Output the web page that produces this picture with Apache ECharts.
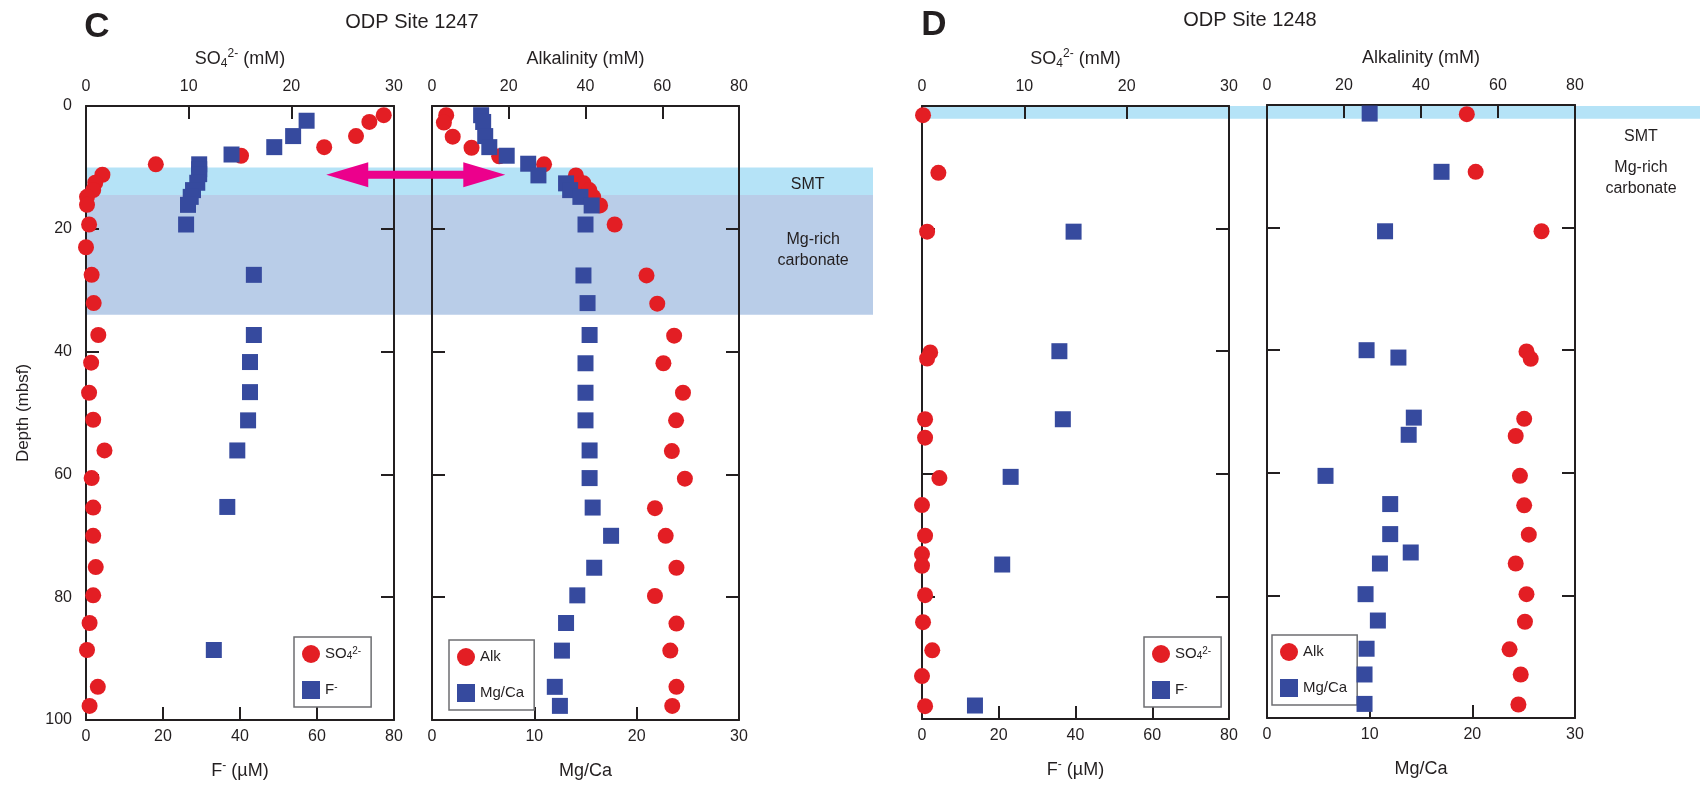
<!DOCTYPE html>
<html>
<head>
<meta charset="utf-8">
<script src="https://cdn.jsdelivr.net/npm/echarts@6/dist/echarts.min.js"></script>
<style>
  html, body { margin: 0; padding: 0; background: #fff; }
  #main { width: 1700px; height: 788px; }
</style>
</head>
<body>
<div id="main"></div>
<script>
// ---- data: [value, depth (mbsf)] ----
// ODP Site 1247
var so4_1247 = [[29.0,1.5],[27.6,2.6],[26.3,4.9],[23.2,6.7],[15.1,8.1],[6.8,9.5],[1.6,11.2],[0.9,12.5],[0.7,13.7],[0.1,14.8],[0.1,16.1],[0.3,19.3],[0.0,23.0],[0.55,27.5],[0.75,32.1],[1.2,37.3],[0.5,41.8],[0.3,46.7],[0.7,51.1],[1.8,56.1],[0.55,60.6],[0.7,65.4],[0.7,70.0],[0.95,75.1],[0.7,79.7],[0.35,84.2],[0.1,88.6],[1.15,94.6],[0.35,97.7]];
var f_1247 = [[57.3,2.4],[53.8,4.9],[48.9,6.7],[37.8,7.9],[29.4,9.5],[29.4,10.3],[29.4,11.1],[28.9,12.5],[27.8,13.7],[27.2,14.8],[26.5,16.1],[26.0,19.3],[43.6,27.5],[43.6,37.3],[42.6,41.7],[42.6,46.6],[42.1,51.2],[39.3,56.1],[36.7,65.3],[33.2,88.6]];
var alk_1247 = [[3.7,1.5],[3.1,2.7],[5.4,5.0],[10.3,6.8],[17.5,8.2],[29.2,9.5],[37.5,11.3],[39.5,12.6],[41.0,13.7],[42.0,14.8],[43.8,16.2],[47.6,19.3],[55.9,27.6],[58.7,32.2],[63.1,37.4],[60.3,41.9],[65.4,46.7],[63.6,51.2],[62.5,56.2],[65.9,60.7],[58.1,65.5],[60.9,70.0],[63.7,75.2],[58.1,79.8],[63.7,84.3],[62.1,88.7],[63.7,94.6],[62.6,97.7]];
var mgca_1247 = [[4.8,1.5],[5.0,2.6],[5.2,4.9],[5.6,6.7],[7.3,8.1],[9.4,9.4],[10.4,11.3],[13.1,12.6],[13.5,13.7],[14.5,14.8],[15.6,16.2],[15.0,19.3],[14.8,27.6],[15.2,32.1],[15.4,37.3],[15.0,41.9],[15.0,46.7],[15.0,51.2],[15.4,56.1],[15.4,60.6],[15.7,65.4],[17.5,70.0],[15.85,75.2],[14.2,79.7],[13.1,84.2],[12.7,88.7],[12.0,94.6],[12.5,97.7]];
// ODP Site 1248
var so4_1248 = [[0.1,1.5],[1.6,10.9],[0.5,20.5],[0.8,40.2],[0.5,41.2],[0.3,51.1],[0.3,54.1],[1.7,60.7],[0.0,65.1],[0.3,70.1],[0.0,73.1],[0.0,75.0],[0.3,79.8],[0.1,84.2],[1.0,88.8],[0.0,93.0],[0.3,97.9]];
var f_1248 = [[39.5,20.5],[35.8,40.0],[36.7,51.1],[23.1,60.5],[20.9,74.8],[13.8,97.8]];
var alk_1248 = [[51.9,1.5],[54.2,10.9],[71.3,20.6],[67.4,40.2],[68.5,41.4],[66.8,51.2],[64.6,54.0],[65.7,60.5],[66.8,65.3],[68.0,70.1],[64.6,74.8],[67.4,79.8],[67.0,84.3],[63.0,88.8],[65.9,92.9],[65.3,97.8]];
var mgca_1248 = [[10.0,1.4],[17.0,10.9],[11.5,20.6],[9.7,40.0],[12.8,41.2],[14.3,51.0],[13.8,53.8],[5.7,60.5],[12.0,65.1],[12.0,70.0],[14.0,73.0],[11.0,74.8],[9.6,79.8],[10.8,84.1],[9.7,88.7],[9.5,92.9],[9.5,97.7]];
// depth bands [from, to]
var smtBand_1247 = [10, 14.5];
var mgBand_1247 = [14.5, 34];
var smtBand_1248 = [0, 2.1];
// arrow ends: SO4 value / Alk value at depth
var arrowDepth = 11.2, arrowSo4 = 23.4, arrowAlk = 19.1;

var FONT = "'Liberation Sans', Arial, Helvetica, sans-serif";
var INK = '#231f20';
var RED = '#e31e24';
var BLUE = '#364a9e';

var RICH = {
	sub: {fontSize: 12, lineHeight: 12, verticalAlign: 'bottom', fontFamily: FONT, color: INK},
	sup: {fontSize: 12, lineHeight: 12, verticalAlign: 'top', fontFamily: FONT, color: INK}
};
var LRICH = {
	sub: {fontSize: 10, lineHeight: 10, verticalAlign: 'bottom', fontFamily: FONT, color: INK},
	sup: {fontSize: 10, lineHeight: 10, verticalAlign: 'top', fontFamily: FONT, color: INK}
};

var line = {color: INK, width: 2};

function xAx(grid, pos, max, interval, name, gap){
	return {
		type: 'value', gridIndex: grid, position: pos, min: 0, max: max, interval: interval,
		name: name, nameLocation: 'middle', nameGap: gap,
		nameTextStyle: {fontSize: 18, lineHeight: 22, color: INK, fontFamily: FONT, rich: RICH},
		axisLine: {show: true, onZero: false, lineStyle: line},
		axisTick: {show: true, inside: true, length: 13, lineStyle: line},
		axisLabel: {fontSize: 16, color: INK, fontFamily: FONT, margin: pos == 'top' ? 11 : 9},
		splitLine: {show: false},
		z: 3
	};
}
function yAx(grid, pos, labels, name){
	return {
		type: 'value', gridIndex: grid, position: pos, inverse: true, min: 0, max: 100, interval: 20,
		name: name || '', nameLocation: 'middle', nameGap: 54, nameRotate: 90,
		nameTextStyle: {fontSize: 17, color: INK, fontFamily: FONT},
		axisLine: {show: true, onZero: false, lineStyle: line},
		axisTick: {show: true, inside: true, length: 13, lineStyle: line},
		axisLabel: {show: labels, fontSize: 16, color: INK, fontFamily: FONT, margin: 14},
		splitLine: {show: false},
		z: 3
	};
}
function hidAx(grid, y){
	var a = {type: 'value', gridIndex: grid, show: false, min: 0, max: y ? 100 : 1, splitLine: {show: false}};
	if(y) a.inverse = true;
	return a;
}
function pts(name, data, xi, yi, sym){
	return {
		name: name, type: 'scatter', xAxisIndex: xi, yAxisIndex: yi,
		symbol: sym, symbolSize: 16, clip: false, z: 5,
		itemStyle: {color: sym == 'circle' ? RED : BLUE, opacity: 1},
		data: data
	};
}

var so4Name = 'SO{sub|4}{sup|2-} (mM)';
var fName = 'F{sup|-} (µM)';

var legendBase = function(left, top, names){
	return {
		left: left, top: top, orient: 'vertical',
		itemWidth: 18, itemHeight: 18, itemGap: 18,
		padding: [8, 10, 8, 8],
		borderColor: '#6d6e71', borderWidth: 1.5, backgroundColor: '#fff',
		selectedMode: false,
		textStyle: {fontSize: 15, color: INK, fontFamily: FONT, rich: LRICH},
		formatter: function(n){
			if(n == 'SO4') return 'SO{sub|4}{sup|2-}';
			if(n == 'F') return 'F{sup|-}';
			return n;
		},
		data: names
	};
};

var option = {
	animation: false,
	backgroundColor: '#fff',
	grid: [
		{left: 86, top: 106, width: 308, height: 614, outerBoundsMode: 'none'},
		{left: 432, top: 106, width: 307, height: 614, outerBoundsMode: 'none'},
		{left: 922, top: 106, width: 307, height: 613, outerBoundsMode: 'none'},
		{left: 1267, top: 105, width: 308, height: 613, outerBoundsMode: 'none'},
		{left: 86, top: 106, width: 787, height: 614, outerBoundsMode: 'none'},
		{left: 922, top: 106, width: 778, height: 613, outerBoundsMode: 'none'}
	],
	xAxis: [
		xAx(0, 'top', 30, 10, so4Name, 36),
		xAx(0, 'bottom', 80, 20, fName, 40),
		xAx(1, 'top', 80, 20, 'Alkalinity (mM)', 36),
		xAx(1, 'bottom', 30, 10, 'Mg/Ca', 40),
		xAx(2, 'top', 30, 10, so4Name, 36),
		xAx(2, 'bottom', 80, 20, fName, 40),
		xAx(3, 'top', 80, 20, 'Alkalinity (mM)', 36),
		xAx(3, 'bottom', 30, 10, 'Mg/Ca', 40),
		hidAx(4, false),
		hidAx(5, false)
	],
	yAxis: [
		yAx(0, 'left', true, 'Depth (mbsf)'),
		yAx(0, 'right', false),
		yAx(1, 'left', false),
		yAx(1, 'right', false),
		yAx(2, 'left', false),
		yAx(2, 'right', false),
		yAx(3, 'left', false),
		yAx(3, 'right', false),
		hidAx(4, true),
		hidAx(5, true)
	],
	legend: [
		legendBase(294, 637, [{name: 'SO4', icon: 'circle'}, {name: 'F', icon: 'rect'}]),
		legendBase(449, 640, [{name: 'Alk', icon: 'circle'}, {name: 'Mg/Ca', icon: 'rect'}]),
		legendBase(1144, 637, [{name: 'SO4', icon: 'circle'}, {name: 'F', icon: 'rect'}]),
		legendBase(1272, 635, [{name: 'Alk', icon: 'circle'}, {name: 'Mg/Ca', icon: 'rect'}])
	],
	series: [
		{
			type: 'scatter', xAxisIndex: 8, yAxisIndex: 8, data: [], z: 1, silent: true,
			markArea: {
				silent: true,
				data: [
					[{yAxis: smtBand_1247[0], itemStyle: {color: '#b5e3f7'},
						label: {show: true, formatter: 'SMT', position: ['91.7%', '61%'], align: 'center', verticalAlign: 'middle', fontSize: 16, color: INK, fontFamily: FONT}},
					 {yAxis: smtBand_1247[1]}],
					[{yAxis: mgBand_1247[0], itemStyle: {color: '#b9cde8'},
						label: {show: true, formatter: 'Mg-rich\ncarbonate', position: ['92.4%', '46%'], align: 'center', verticalAlign: 'middle', fontSize: 16, lineHeight: 21, color: INK, fontFamily: FONT}},
					 {yAxis: mgBand_1247[1]}]
				]
			}
		},
		{
			type: 'scatter', xAxisIndex: 9, yAxisIndex: 9, data: [], z: 1, silent: true,
			markArea: {
				silent: true,
				data: [
					[{yAxis: smtBand_1248[0], itemStyle: {color: '#b5e3f7'}, label: {show: false}},
					 {yAxis: smtBand_1248[1]}]
				]
			}
		},
		pts('SO4', so4_1247, 0, 0, 'circle'),
		pts('F', f_1247, 1, 0, 'rect'),
		pts('Alk', alk_1247, 2, 2, 'circle'),
		pts('Mg/Ca', mgca_1247, 3, 2, 'rect'),
		pts('SO4', so4_1248, 4, 4, 'circle'),
		pts('F', f_1248, 5, 4, 'rect'),
		pts('Alk', alk_1248, 6, 6, 'circle'),
		pts('Mg/Ca', mgca_1248, 7, 6, 'rect')
	]
};

var myChart = echarts.init(document.getElementById('main'), null, {renderer: 'canvas'});
myChart.setOption(option);

// annotations: panel letters, site titles, arrow, D band labels
var pL = myChart.convertToPixel({xAxisIndex: 0, yAxisIndex: 0}, [arrowSo4, arrowDepth]);
var pR = myChart.convertToPixel({xAxisIndex: 2, yAxisIndex: 2}, [arrowAlk, arrowDepth]);
var y = pL[1], xl = pL[0], xr = pR[0], hl = 42, hh = 12.5, st = 4;
function txt(id, x, y, s, size, bold){
	return {
		id: id, type: 'text', x: x, y: y, z: 10,
		style: {text: s, fill: INK, font: (bold ? 'bold ' : '') + size + 'px ' + FONT,
			textAlign: 'center', textVerticalAlign: 'middle', lineHeight: 21}
	};
}
myChart.setOption({
	graphic: [
		txt('lc', 97, 27, 'C', 35, true),
		txt('ld', 934, 25, 'D', 35, true),
		txt('t1', 412, 22, 'ODP Site 1247', 20),
		txt('t2', 1250, 20, 'ODP Site 1248', 20),
		txt('smt2', 1641, 137, 'SMT', 16),
		txt('mg2', 1641, 178, 'Mg-rich\ncarbonate', 16),
		{
			id: 'arrow', type: 'polygon', z: 9, silent: true,
			shape: {points: [
				[xl, y], [xl + hl, y - hh], [xl + hl, y - st], [xr - hl, y - st], [xr - hl, y - hh],
				[xr, y], [xr - hl, y + hh], [xr - hl, y + st], [xl + hl, y + st], [xl + hl, y + hh]
			]},
			style: {fill: '#ec008c'}
		}
	]
});
</script>
</body>
</html>
